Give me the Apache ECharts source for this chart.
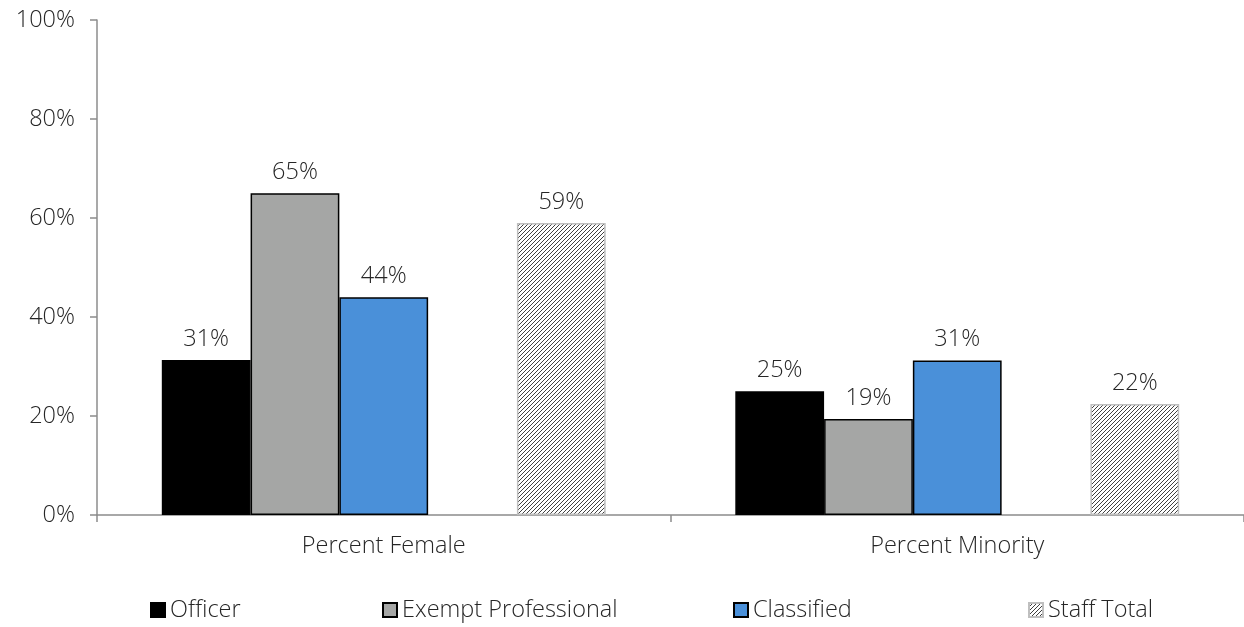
<!DOCTYPE html>
<html>
<head>
<meta charset="utf-8">
<script src="https://cdn.jsdelivr.net/npm/echarts@6/dist/echarts.min.js"></script>
<style>
html,body{margin:0;padding:0;background:#fff;}
#chart{width:1244px;height:627px;}
</style>
</head>
<body>
<div id="chart"></div>
<script>
const categories = ['Percent Female', 'Percent Minority'];
const officer = [0.313, 0.25];
const exemptProfessional = [0.65, 0.194];
const classified = [0.44, 0.312];
const staffTotal = [0.59, 0.224];
const yTicks = [0, 0.2, 0.4, 0.6, 0.8, 1.0];

const FONT = '"Open Sans"';
const FS = 23.5;

function hatch() {
  const c = document.createElement('canvas');
  const s = 4;
  c.width = s; c.height = s;
  const g = c.getContext('2d');
  g.fillStyle = '#ffffff';
  g.fillRect(0, 0, s, s);
  g.strokeStyle = '#404040';
  g.lineWidth = 1.0;
  g.beginPath();
  g.moveTo(-1, s + 1); g.lineTo(s + 1, -1);
  g.moveTo(-1, 1); g.lineTo(1, -1);
  g.moveTo(s - 1, s + 1); g.lineTo(s + 1, s - 1);
  g.stroke();
  return c;
}
const pattern = { image: hatch(), repeat: 'repeat' };

const label = {
  show: true,
  position: 'top',
  distance: 9,
  fontFamily: FONT,
  fontWeight: 300,
  fontSize: FS,
  color: '#262626',
  formatter: p => Math.round(p.value * 100) + '%'
};

const chart = echarts.init(document.getElementById('chart'), null, { renderer: 'canvas' });

const legendBase = {
  orient: 'horizontal',
  top: 593,
  itemWidth: 14,
  itemHeight: 14,
  itemGap: 5,
  icon: 'rect',
  textStyle: { fontFamily: FONT, fontWeight: 300, fontSize: FS, color: '#262626' },
  selectedMode: false
};

chart.setOption({
  animation: false,
  backgroundColor: '#ffffff',
  legend: [
    Object.assign({}, legendBase, { left: 145, data: ['Officer'] }),
    Object.assign({}, legendBase, { left: 377, data: ['Exempt Professional'] }),
    Object.assign({}, legendBase, { left: 728, data: ['Classified'] }),
    Object.assign({}, legendBase, { left: 1023, data: ['Staff Total'] })
  ],
  grid: { left: 97, top: 20, width: 1150, height: 495, containLabel: false },
  xAxis: {
    type: 'category',
    data: categories,
    axisLine: { lineStyle: { color: '#8c8c8c', width: 1.5 } },
    axisTick: { show: true, length: 7, lineStyle: { color: '#8c8c8c', width: 1.5 } },
    axisLabel: { margin: 19, fontFamily: FONT, fontWeight: 300, fontSize: FS, color: '#262626' }
  },
  yAxis: {
    type: 'value',
    min: 0,
    max: 1,
    interval: 0.2,
    axisLine: { show: true, lineStyle: { color: '#8c8c8c', width: 1.5 } },
    axisTick: { show: true, length: 7, lineStyle: { color: '#8c8c8c', width: 1.5 } },
    splitLine: { show: false },
    axisLabel: {
      margin: 22,
      fontFamily: FONT, fontWeight: 300, fontSize: FS, color: '#262626',
      formatter: v => {
        const t = yTicks.find(x => Math.abs(x - v) < 1e-9);
        return Math.round((t === undefined ? v : t) * 100) + '%';
      }
    }
  },
  series: [
    {
      name: 'Officer', type: 'bar', data: officer,
      barGap: '0%', barCategoryGap: '22.6%',
      itemStyle: { color: '#000000', borderColor: '#000000', borderWidth: 1.5 },
      label: label
    },
    {
      name: 'Exempt Professional', type: 'bar', data: exemptProfessional,
      itemStyle: { color: '#a5a6a5', borderColor: '#000000', borderWidth: 1.5 },
      label: label
    },
    {
      name: 'Classified', type: 'bar', data: classified,
      itemStyle: { color: '#4a90d9', borderColor: '#000000', borderWidth: 1.5 },
      label: label
    },
    {
      name: 'spacer', type: 'bar', data: [null, null],
      itemStyle: { color: 'transparent' }
    },
    {
      name: 'Staff Total', type: 'bar', data: staffTotal,
      itemStyle: { color: pattern, borderColor: '#bfbfbf', borderWidth: 1.5 },
      label: label
    }
  ]
});
</script>
</body>
</html>
